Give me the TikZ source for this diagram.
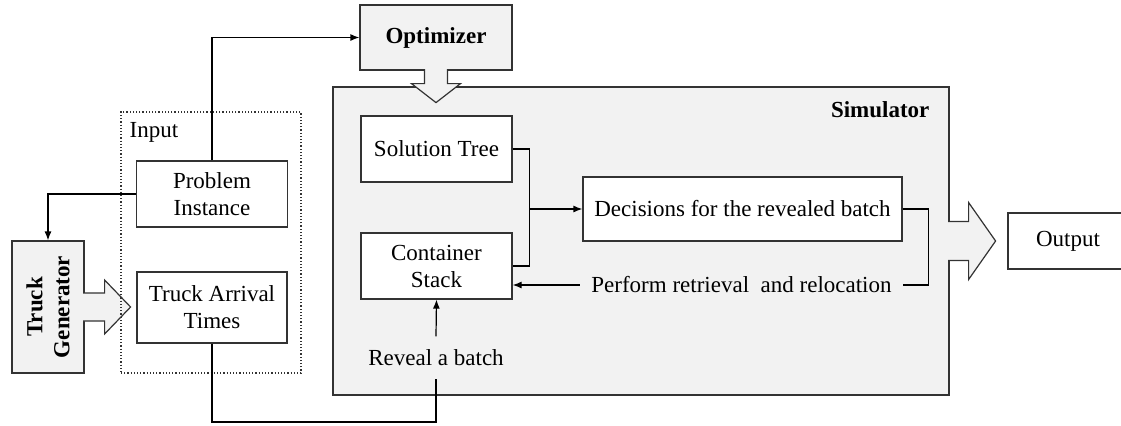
\documentclass[tikz,border=0pt]{standalone}
\usepackage{fontspec}
\setmainfont{Liberation Serif}
\usetikzlibrary{arrows.meta}
\definecolor{panel}{HTML}{F2F2F2}
\begin{document}
\fontsize{11.5}{13.5}\selectfont
\begin{tikzpicture}[x=0.5pt, y=-0.5pt, line width=0.6pt,
    box/.style={rectangle, draw=black!80, fill=white, align=center, inner sep=0pt},
    gbox/.style={box, fill=panel},
    arr/.style={-{Latex[length=4.5pt,width=3.5pt]}},
    blk/.style={draw=black!80, fill=panel, line join=miter}]
  \useasboundingbox (0,0) rectangle (1121,425);

  \node[gbox, minimum width=308pt, minimum height=154pt] (sim) at (641,241) {};
  \node[font=\bfseries, anchor=base east, inner sep=0pt] (simt) at (930,117) {Simulator};
  \node[gbox, minimum width=76pt, minimum height=32.5pt, font=\bfseries] (opt) at (436,37.5) {Optimizer};
  \node[gbox, minimum width=36pt, minimum height=66pt] (tg) at (48,307) {};
  \node[rotate=90, font=\bfseries, align=center, inner sep=0pt] (tgt) at (tg) {Truck\\Generator};

  % block arrows
  \filldraw[blk] ([shift={(-11.5,-1.5)}]opt.south) -- ++(0,14.5) -- ++(-13,0) -- ++(24.5,19) -- ++(24.5,-19) -- ++(-13,0) -- ++(0,-14.5);
  \filldraw[blk] ([shift={(-1.5,-14)}]tg.east) -- ++(21.5,0) -- ++(0,-13) -- ++(26,27) -- ++(-26,27) -- ++(0,-13) -- ++(-21.5,0);
  \filldraw[blk] ([shift={(-1.5,-19.5)}]sim.east) -- ++(20.5,0) -- ++(0,-19) -- ++(27,38.5) -- ++(-27,38.5) -- ++(0,-19) -- ++(-20.5,0);

  \node[draw=black!80, densely dotted, minimum width=90pt, minimum height=130.5pt] (inp) at (211,242.5) {};
  \node[anchor=base west, inner sep=0pt] (inpt) at (129,137) {Input};
  \node[box, minimum width=75.5pt, minimum height=33pt] (prob) at (212,194) {Problem\\Instance};
  \node[box, minimum width=75pt, minimum height=35.5pt] (tat) at (212,307.5) {Truck Arrival\\Times};

  \node[box, minimum width=75.5pt, minimum height=33pt] (sol) at (436.5,149) {Solution Tree};
  \node[box, minimum width=75.5pt, minimum height=33pt] (cs) at (436.5,266) {Container\\Stack};
  \node[box, minimum width=159.5pt, minimum height=32pt] (dec) at (742.5,209) {Decisions for the revealed batch};
  \node[box, minimum width=60pt, minimum height=28pt] (out) at (1068,241) {Output};
  \node[inner xsep=5.5pt] (perf) at (741.5,285) {Perform retrieval\ \ and relocation};
  \node[minimum height=20.5pt, inner sep=0pt] (rev) at (436,357.5) {Reveal a batch};

  \draw[arr] (prob.north) |- (opt.west);
  \draw[arr] (prob.west) -| (tg.north);
  \coordinate (low) at (436,422);
  \draw (tat.south) |- (low) -- (rev.south);
  \draw[arr] (rev.north) -- (cs.south);
  \draw (sol.east) -- ++(17,0) |- (cs.east);
  \draw[arr] ([xshift=8.5pt]sol.east |- dec.west) -- (dec.west);
  \draw (dec.east) -- ++(26,0) |- (perf.east);
  \draw[arr] (perf.west) -- (perf.west -| cs.east);
\end{tikzpicture}
\end{document}
